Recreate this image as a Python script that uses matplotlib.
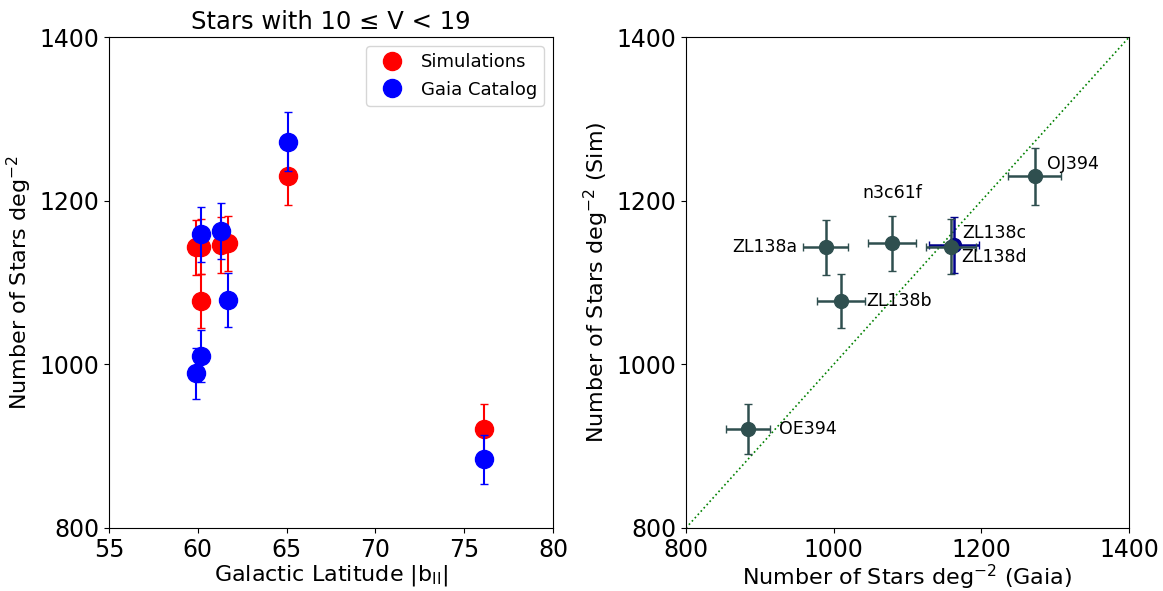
import matplotlib
matplotlib.use("Agg")
import matplotlib.pyplot as plt

# fields
fields = ["ZL138a", "ZL138b", "ZL138c", "ZL138d", "n3c61f", "OJ394", "OE394"]
latitude = [59.9, 60.2, 60.2, 61.3, 61.7, 65.1, 76.1]
gaia = [989, 1010, 1159, 1163, 1079, 1272, 884]
gaia_err = [31, 32, 34, 34, 33, 36, 30]
sim = [1143, 1077, 1144, 1146, 1148, 1230, 921]
sim_err = [34, 33, 34, 34, 34, 35, 30]

# label offsets (points) for the right panel
offsets = {
    "ZL138a": (-20, 0, "right"),
    "ZL138b": (18, 0, "left"),
    "n3c61f": (0, 36, "center"),
    "ZL138c": (8, 10, "left"),
    "ZL138d": (5, -9, "left"),
    "OJ394": (9, 9, "left"),
    "OE394": (22, 0, "left"),
}

fig = plt.figure(figsize=(11.63, 5.91), dpi=100)
ax1 = fig.add_axes([0.0937, 0.1066, 0.3818, 0.8304])
ax2 = fig.add_axes([0.5898, 0.1066, 0.3810, 0.8304])

# left: counts against latitude
ax1.errorbar(latitude, sim, yerr=sim_err, fmt="none", ecolor="red", capsize=3, elinewidth=1.5)
ax1.plot(latitude, sim, "o", color="red", markersize=13, label="Simulations")
ax1.errorbar(latitude, gaia, yerr=gaia_err, fmt="none", ecolor="blue", capsize=3, elinewidth=1.5)
ax1.plot(latitude, gaia, "o", color="blue", markersize=13, label="Gaia Catalog")
ax1.set_xlim(55, 80)
ax1.set_ylim(800, 1400)
ax1.set_xticks(range(55, 81, 5))
ax1.set_yticks(range(800, 1401, 200))
ax1.tick_params(labelsize=17)
ax1.set_xlabel(r"Galactic Latitude |b$_{\mathrm{II}}$|", fontsize=16, labelpad=1)
ax1.set_ylabel(r"Number of Stars deg$^{-2}$", fontsize=16)
ax1.set_title("Stars with 10 ≤ V < 19", fontsize=17.5)
ax1.legend(loc="upper right", fontsize=13, markerscale=1.0, handletextpad=0.6)

# right: simulation against gaia
ax2.plot([800, 1400], [800, 1400], ":", color="green", linewidth=1.2)
for name, g, ge, s, se in zip(fields, gaia, gaia_err, sim, sim_err):
    col = "#00008b" if name == "ZL138d" else "#2f4f4f"
    ax2.errorbar(g, s, xerr=ge, yerr=se, fmt="o", color=col, ecolor=col,
                 markersize=10, capsize=3, elinewidth=1.8,
                 zorder=2 if name == "ZL138d" else 3)
    dx, dy, ha = offsets[name]
    ax2.annotate(name, (g, s), xytext=(dx, dy), textcoords="offset points",
                 ha=ha, va="center", fontsize=12.5)
ax2.set_xlim(800, 1400)
ax2.set_ylim(800, 1400)
ax2.set_xticks(range(800, 1401, 200))
ax2.set_yticks(range(800, 1401, 200))
ax2.tick_params(labelsize=17)
ax2.set_xlabel(r"Number of Stars deg$^{-2}$ (Gaia)", fontsize=16, labelpad=1)
ax2.set_ylabel(r"Number of Stars deg$^{-2}$ (Sim)", fontsize=16)

fig.savefig("out.png", dpi=100)
